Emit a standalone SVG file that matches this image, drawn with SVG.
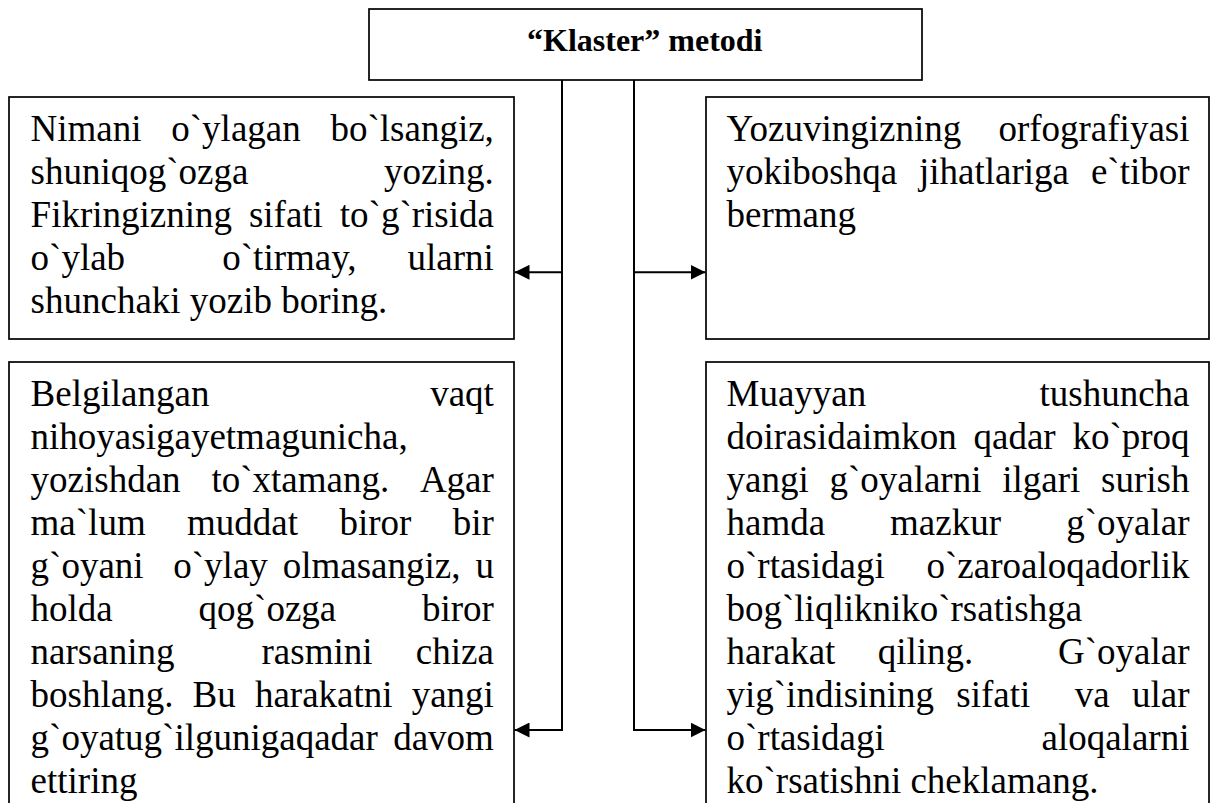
<svg xmlns="http://www.w3.org/2000/svg" width="1210" height="803" viewBox="0 0 1210 803">
<style>
.box{fill:#fff;stroke:#000;stroke-width:1.7}
.t{font-family:"Liberation Serif","Times New Roman",serif;font-size:37px;fill:#000}
.h{font-family:"Liberation Serif","Times New Roman",serif;font-size:32px;font-weight:bold;fill:#000}
.c{fill:none;stroke:#000;stroke-width:2}
</style>
<defs>
<marker id="ah" markerUnits="userSpaceOnUse" markerWidth="15" markerHeight="15" refX="15" refY="7.5" orient="auto">
<path d="M0,0 L15,7.5 L0,15 Z" fill="#000"/>
</marker>
</defs>
<rect width="1210" height="803" fill="#fff"/>
<g id="title">
<rect class="box" x="369" y="9" width="553" height="71"/>
<text class="h" x="527" y="51">“Klaster” metodi</text>
</g>
<g id="connectors">
<path class="c" d="M562,80 V272.3 H514.5" marker-end="url(#ah)"/>
<path class="c" d="M562,80 V730 H514.5" marker-end="url(#ah)"/>
<path class="c" d="M634,80 V272.3 H705.5" marker-end="url(#ah)"/>
<path class="c" d="M634,80 V730 H705.5" marker-end="url(#ah)"/>
</g>
<g id="node-tl">
<rect class="box" x="9" y="97" width="505" height="242"/>
<text class="t" y="141.2"><tspan x="30.6">Nimani</tspan> <tspan x="171.3">o`ylagan</tspan> <tspan x="330.5">bo`lsangiz,</tspan></text>
<text class="t" y="184.2"><tspan x="30.6">shuniqog`ozga</tspan> <tspan x="383.9">yozing.</tspan></text>
<text class="t" y="227.2"><tspan x="30.6">Fikringizning</tspan> <tspan x="248.9">sifati</tspan> <tspan x="339.8">to`g`risida</tspan></text>
<text class="t" y="270.2"><tspan x="30.6">o`ylab</tspan> <tspan x="222.3">o`tirmay,</tspan> <tspan x="407.6">ularni</tspan></text>
<text class="t" x="30.6" y="313.2">shunchaki yozib boring.</text>
</g>
<g id="node-tr">
<rect class="box" x="706" y="97" width="503" height="242"/>
<text class="t" y="141.2"><tspan x="726.5">Yozuvingizning</tspan> <tspan x="998.4">orfografiyasi</tspan></text>
<text class="t" y="184.2"><tspan x="726.5">yokiboshqa</tspan> <tspan x="919">jihatlariga</tspan> <tspan x="1090.9">e`tibor</tspan></text>
<text class="t" x="726.5" y="227.2">bermang</text>
</g>
<g id="node-bl">
<rect class="box" x="9" y="362" width="505" height="460"/>
<text class="t" y="406"><tspan x="30.6">Belgilangan</tspan> <tspan x="430.2">vaqt</tspan></text>
<text class="t" x="30.6" y="449">nihoyasigayetmagunicha,</text>
<text class="t" y="492"><tspan x="30.6">yozishdan</tspan> <tspan x="211.4">to`xtamang.</tspan> <tspan x="419.9">Agar</tspan></text>
<text class="t" y="535"><tspan x="30.6">ma`lum</tspan> <tspan x="187.1">muddat</tspan> <tspan x="339.5">biror</tspan> <tspan x="452.8">bir</tspan></text>
<text class="t" y="578"><tspan x="30.6">g`oyani</tspan> <tspan x="173.3">o`ylay</tspan> <tspan x="282.7">olmasangiz,</tspan> <tspan x="475.4">u</tspan></text>
<text class="t" y="621"><tspan x="30.6">holda</tspan> <tspan x="198.6">qog`ozga</tspan> <tspan x="422">biror</tspan></text>
<text class="t" y="664"><tspan x="30.6">narsaning</tspan> <tspan x="261.5">rasmini</tspan> <tspan x="415.8">chiza</tspan></text>
<text class="t" y="707"><tspan x="30.6">boshlang.</tspan> <tspan x="192.6">Bu</tspan> <tspan x="254.9">harakatni</tspan> <tspan x="411.7">yangi</tspan></text>
<text class="t" y="750"><tspan x="30.6">g`oyatug`ilgunigaqadar</tspan> <tspan x="393.2">davom</tspan></text>
<text class="t" x="30.6" y="793">ettiring</text>
</g>
<g id="node-br">
<rect class="box" x="706" y="362" width="503" height="460"/>
<text class="t" y="406"><tspan x="726.5">Muayyan</tspan> <tspan x="1039.5">tushuncha</tspan></text>
<text class="t" y="449"><tspan x="726.5">doirasidaimkon</tspan> <tspan x="973.5">qadar</tspan> <tspan x="1072.4">ko`proq</tspan></text>
<text class="t" y="492"><tspan x="726.5">yangi</tspan> <tspan x="829.4">g`oyalarni</tspan> <tspan x="1002.2">ilgari</tspan> <tspan x="1101.1">surish</tspan></text>
<text class="t" y="535"><tspan x="726.5">hamda</tspan> <tspan x="890.1">mazkur</tspan> <tspan x="1066.2">g`oyalar</tspan></text>
<text class="t" y="578"><tspan x="726.5">o`rtasidagi</tspan> <tspan x="926.5">o`zaroaloqadorlik</tspan></text>
<text class="t" x="726.5" y="621">bog`liqlikniko`rsatishga</text>
<text class="t" y="664"><tspan x="726.5">harakat</tspan> <tspan x="877.7">qiling.</tspan> <tspan x="1058">G`oyalar</tspan></text>
<text class="t" y="707"><tspan x="726.5">yig`indisining</tspan> <tspan x="956.3">sifati</tspan> <tspan x="1074.7">va</tspan> <tspan x="1132">ular</tspan></text>
<text class="t" y="750"><tspan x="726.5">o`rtasidagi</tspan> <tspan x="1041.5">aloqalarni</tspan></text>
<text class="t" x="726.5" y="793">ko`rsatishni cheklamang.</text>
</g>
</svg>
